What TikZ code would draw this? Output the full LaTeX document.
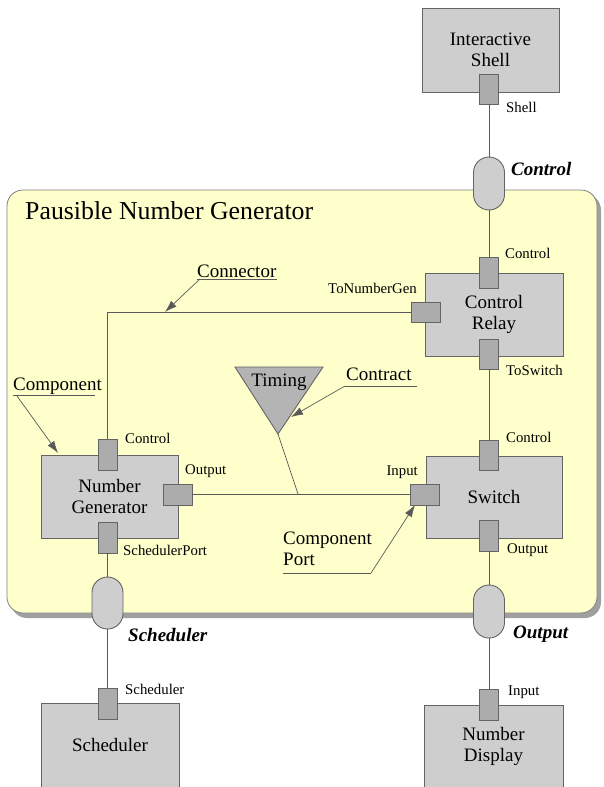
\documentclass[tikz,border=0pt]{standalone}
\usepackage{fontspec}
\setmainfont{Liberation Serif}
\usetikzlibrary{arrows.meta}
\definecolor{boxgray}{RGB}{206,206,206}
\definecolor{portgray}{RGB}{172,172,172}
\definecolor{edgegray}{RGB}{100,100,100}
\definecolor{wiregray}{RGB}{90,90,90}
\definecolor{paleyellow}{RGB}{255,255,204}
\definecolor{shadowgray}{RGB}{160,160,160}
\definecolor{trigray}{RGB}{180,180,180}
\tikzset{
  comp/.style={draw=edgegray, line width=0.9pt, fill=boxgray, rectangle, inner sep=0pt,
    align=center, font=\fontsize{19}{21}\selectfont},
  port/.style={draw=edgegray, line width=0.9pt, fill=portgray, rectangle, inner sep=0pt},
  vport/.style={port, minimum width=19pt, minimum height=30pt},
  hport/.style={port, minimum width=29pt, minimum height=21pt},
  capsule/.style={draw=edgegray, line width=0.9pt, fill=boxgray, rectangle, inner sep=0pt,
    rounded corners=15.5pt, minimum width=31pt, minimum height=53pt},
  plabel/.style={anchor=base west, inner sep=0pt, font=\fontsize{14.8}{16}\selectfont},
  rlabel/.style={plabel, anchor=base east},
  bilabel/.style={anchor=base west, inner sep=0pt, font=\fontsize{19}{21}\selectfont\bfseries\itshape},
  note/.style={anchor=base west, inner sep=0pt, align=left, font=\fontsize{19}{21}\selectfont},
  wire/.style={draw=wiregray, line width=0.9pt},
  leader/.style={draw=wiregray, line width=0.7pt},
  pointer/.style={leader, -{Latex[length=12pt,width=8pt]}},
}
\begin{document}
\begin{tikzpicture}[x=1pt,y=-1pt]
\useasboundingbox (0,0) rectangle (603,787);

% composite container with its drop shadow
\fill[shadowgray, rounded corners=16pt] (11,194) rectangle (601,618);
\draw[draw=shadowgray!80!black, line width=0.8pt, fill=paleyellow, rounded corners=16pt] (7,190) rectangle (597,613);
\node[anchor=base west, inner sep=0pt, font=\fontsize{25.8}{28}\selectfont] (title) at (25,219) {Pausible Number Generator};

% components
\node[comp, minimum width=137pt, minimum height=84pt] (shell) at (490.5,50) {Interactive\\Shell};
\node[comp, minimum width=138pt, minimum height=83pt] (relay) at (494,314.5) {Control\\Relay};
\node[comp, minimum width=136pt, minimum height=82pt] (switch) at (494,497) {Switch};
\node[comp, minimum width=137pt, minimum height=83pt] (numgen) at (109.5,496.5) {Number\\Generator};
\node[comp, minimum width=138pt, minimum height=84pt] (sched) at (110,745) {Scheduler};
\node[comp, minimum width=139pt, minimum height=82pt] (display) at (493.5,746) {Number\\Display};

% ports
\node[vport] (shellP) at (489,89) {};
\node[vport, minimum height=31pt] (relayCtl) at (489,272.5) {};
\node[hport, minimum height=20pt] (toNum) at (425.5,312) {};
\node[vport] (toSw) at (489,354) {};
\node[vport] (swCtl) at (489,455) {};
\node[hport] (swIn) at (424.5,494.5) {};
\node[vport, minimum height=31pt] (swOut) at (489,535.5) {};
\node[vport, minimum height=31pt] (dispIn) at (489,704.5) {};
\node[vport, minimum height=31pt] (ngCtl) at (107.5,454.5) {};
\node[hport] (ngOut) at (177.5,494.5) {};
\node[vport, minimum height=31pt] (ngSched) at (107.5,537.5) {};
\node[vport, minimum height=31pt] (schedIn) at (107.5,703.5) {};

% relation capsules
\node[capsule] (capCtl) at (489,183.5) {};
\node[capsule, minimum height=52pt] (capSched) at (107.5,603) {};
\node[capsule] (capOut) at (489,611.5) {};

% connectors
\draw[wire] (shellP.south) -- (capCtl.north);
\draw[wire] (capCtl.south) -- (relayCtl.north);
\draw[wire] (toSw.south) -- (swCtl.north);
\draw[wire] (swOut.south) -- (capOut.north);
\draw[wire] (capOut.south) -- (dispIn.north);
\draw[wire] (ngCtl.north) |- (toNum.west);
\draw[wire] (ngSched.south) -- (capSched.north);
\draw[wire] (capSched.south) -- (schedIn.north);
\draw[wire] (ngOut.east) -- (swIn.west);

% contract attached to the output wire
\draw[draw=edgegray, line width=0.9pt, fill=trigray] (235,367) -- (323,367) -- (278,434) -- cycle;
\coordinate (apex) at (278,434);
\coordinate (tap) at (298,494);
\draw[wire, line width=0.7pt] (apex) -- (tap);
\node[anchor=base, inner sep=0pt, font=\fontsize{19}{21}\selectfont] (timing) at (279,386) {Timing};

% port labels
\node[plabel] (lShell) at (506,112) {Shell};
\node[plabel] (lRelayCtl) at (505,258) {Control};
\node[rlabel] (lToNum) at (417,293) {ToNumberGen};
\node[plabel] (lToSw) at (506,375) {ToSwitch};
\node[plabel] (lSwCtl) at (506,442) {Control};
\node[rlabel] (lSwIn) at (418,475) {Input};
\node[plabel] (lSwOut) at (507,553) {Output};
\node[plabel] (lNgCtl) at (125,443) {Control};
\node[plabel] (lNgOut) at (185,474) {Output};
\node[plabel] (lNgSched) at (123,555) {SchedulerPort};
\node[plabel] (lSchedIn) at (125,694) {Scheduler};
\node[plabel] (lDispIn) at (508,695) {Input};

% relation labels
\node[bilabel] (lCapCtl) at (511,175) {Control};
\node[bilabel] (lCapSched) at (128,641) {Scheduler};
\node[bilabel] (lCapOut) at (513,638) {Output};

% annotations
\node[note] (nConn) at (197,277) {Connector};
\coordinate (uConnA) at (197,279);
\coordinate (uConnB) at (277,279);
\coordinate (tConn) at (165,312);
\draw[leader] (uConnA) -- (uConnB);
\draw[pointer] (200,279) -- (tConn);

\node[note] (nComp) at (13,390) {Component};
\coordinate (uCompA) at (13,395);
\coordinate (uCompB) at (95,395);
\coordinate (tComp) at (58,453);
\draw[leader] (uCompA) -- (uCompB);
\draw[pointer] (17,396) -- (tComp);

\node[note] (nContract) at (346,380) {Contract};
\coordinate (uConA) at (345,386);
\coordinate (uConB) at (417,386);
\coordinate (tCon) at (291,417);
\draw[leader] (uConA) -- (uConB);
\draw[pointer] (uConA) -- (tCon);

% two-line note: the base anchor sits on its last line
\node[note] (nPort) at (283,565) {Component\\Port};
\coordinate (uPortA) at (283,573);
\coordinate (uPortB) at (371,573);
\coordinate (tPort) at (415,505);
\draw[leader] (uPortA) -- (uPortB);
\draw[pointer] (uPortB) -- (tPort);
\end{tikzpicture}
\end{document}
